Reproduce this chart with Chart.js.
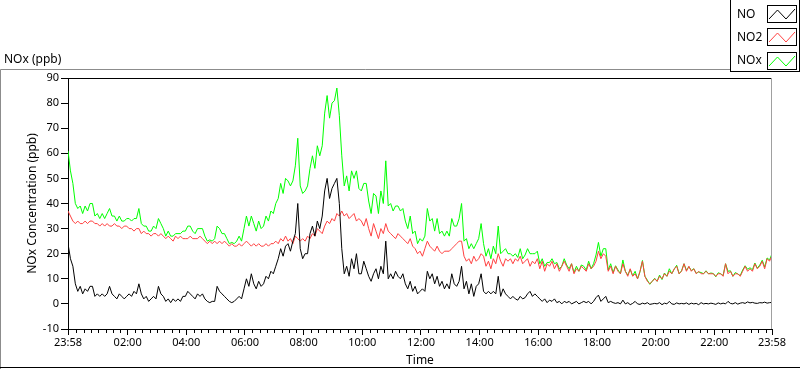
<!DOCTYPE html>
<html>
<head>
<meta charset="utf-8">
<title>NOx (ppb)</title>
<script src="https://cdn.jsdelivr.net/npm/chart.js@4.4.1/dist/chart.umd.min.js"></script>
<style>
    html, body { margin: 0; padding: 0; background: #ffffff; }
    #noxChart { display: block; }
</style>
</head>
<body>
<canvas id="noxChart" width="800" height="369"></canvas>
<script>
// One day of NOx readings, one sample every 5 minutes starting at 23:58
const sampleStep = 5;

const noValues = [
    24, 18, 15, 8, 5, 7, 4, 6, 5, 7, 7, 3,
    4, 3, 4, 3, 4, 7, 4, 3, 2, 4, 3, 2,
    3, 4, 3, 5, 4, 8, 4, 2, 3, 1, 2, 3,
    2, 7, 4, 3, 1, 2, 0.5, 2, 1, 2, 1, 3,
    3, 5, 4, 3, 2, 4, 3, 4, 2, 1, 0.5, 1,
    1, 7, 5, 4, 3, 2, 1, 0.5, 1, 2, 3, 2,
    6, 10, 7, 12, 8, 6, 9, 7, 8, 11, 10, 13,
    12, 15, 18, 22, 19, 23, 24, 21, 25, 28, 40, 22,
    18, 20, 20, 28, 31, 27, 33, 30, 35, 45, 50, 42,
    46, 48, 50, 40, 22, 12, 15, 11, 18, 14, 20, 12,
    12, 17, 14, 11, 9, 12, 14, 10, 15, 12, 25, 10,
    12, 10, 13, 11, 10, 12, 8, 6, 9, 5, 7, 4,
    5, 6, 5, 13, 10, 12, 8, 11, 7, 9, 6, 8,
    6, 12, 8, 7, 9, 15, 6, 9, 4, 8, 3, 7,
    8, 12, 5, 4, 5, 4, 5, 4, 11, 3, 6, 4,
    3, 2, 3, 2, 1.5, 3, 2, 2.5, 4, 5, 3, 4,
    3, 2, 1, 2, 0.5, 1.5, 1, 2, 0.5, 1, 0, 1,
    0.5, 1, 0, 0.5, 1, 0, 0.5, 1, 0.5, 1, 0, 1,
    2.5, 3.5, 1, 2, 3, 0.5, 1, 0.5, 0.2, 0.5, 0, 1.5,
    0, 0.5, -0.3, 0.2, 1, 0, -0.2, 0.3, 0, 0.5, -0.2, 0,
    0.2, 0, 0.5, -0.3, 0.3, 0, 1, 0, -0.2, 0.4, 0, 0.2,
    0, 0.4, -0.2, 0.3, 0, 0.2, -0.3, 0.5, 0, 0.2, 0, 0.3,
    0.1, -0.2, 0.4, 0, 0.3, 0, 1, 0.2, 0, 0.5, -0.1, 0.3,
    0.5, 0.2, 0.8, 0.4, 0.6, 0.3, 0.2, 0.5, 0.4, 0.7, 0.3, 0.5,
    0.6
];

const no2Values = [
    37, 35, 33, 32, 33, 32, 32, 33, 32, 33, 33, 32,
    32, 31, 32, 31, 32, 31, 31, 32, 31, 31, 30, 31,
    31, 30, 30, 29, 30, 30, 28, 29, 28, 28, 27, 28,
    28, 27, 28, 27, 26, 27, 26, 25, 27, 26, 27, 26,
    26, 26, 27, 26, 26, 26, 27, 26, 25, 24, 25, 24,
    25, 24, 25, 24, 25, 24, 23, 24, 23, 23, 24, 23,
    24, 25, 24, 23, 24, 23, 24, 23, 23, 24, 23, 24,
    24, 25, 24, 26, 25, 27, 25, 26, 24, 27, 26, 25,
    26, 25, 27, 26, 28, 27, 30, 29, 28, 31, 33, 32,
    34, 33, 36, 35, 37, 35, 36, 34, 35, 36, 33, 34,
    33, 31, 34, 30, 27, 32, 29, 26, 30, 28, 32, 29,
    28, 27, 26, 28, 27, 26, 25, 24, 26, 23, 22, 20,
    21, 19, 22, 25, 23, 22, 21, 23, 21, 20, 21, 21,
    21, 22, 23, 24, 25, 25, 19, 17, 18, 16, 19, 17,
    18, 20, 19, 15, 17, 14, 18, 16, 20, 17, 15, 18,
    17, 18, 16, 18, 17, 19, 16, 17, 18, 15, 17, 16,
    18, 14, 17, 13, 16, 15, 17, 14, 16, 13, 15, 17,
    15, 13, 16, 12, 14, 13, 15, 14, 13, 16, 14, 15,
    17, 21, 18, 20, 19, 13, 15, 12, 15, 13, 12, 16,
    13, 11, 14, 11, 12, 10, 13, 17, 11, 9, 8, 9,
    10, 9, 11, 10, 12, 11, 13, 12, 14, 15, 12, 13,
    16, 13, 15, 13, 14, 12, 13, 12, 12, 13, 12, 12,
    12, 11, 12, 12, 11, 16, 12, 13, 11, 12, 12, 11,
    13, 15, 13, 14, 13, 16, 14, 15, 17, 14, 18, 17,
    19.4
];

const noxValues = [
    61, 53, 48, 40, 38, 39, 36, 39, 37, 40, 40, 35,
    36, 34, 36, 34, 36, 38, 35, 35, 33, 35, 33, 33,
    34, 34, 33, 34, 34, 38, 32, 31, 31, 29, 29, 31,
    30, 34, 32, 30, 27, 29, 27, 27, 28, 28, 28, 29,
    29, 31, 31, 29, 28, 30, 30, 30, 27, 25, 25.5, 25,
    26, 31, 30, 28, 28, 26, 24, 24.5, 24, 25, 27, 25,
    30, 35, 31, 35, 32, 29, 33, 30, 31, 35, 33, 37,
    36, 40, 42, 48, 44, 50, 49, 47, 49, 55, 66, 47,
    44, 45, 47, 54, 59, 54, 63, 59, 63, 76, 83, 74,
    80, 81, 86, 75, 59, 47, 51, 45, 53, 50, 53, 46,
    45, 48, 48, 41, 36, 44, 43, 36, 45, 40, 57, 39,
    40, 37, 39, 39, 37, 38, 33, 30, 35, 28, 29, 24,
    26, 25, 27, 38, 33, 34, 29, 34, 28, 29, 27, 29,
    27, 34, 31, 31, 34, 40, 25, 26, 22, 24, 22, 24,
    26, 32, 24, 19, 22, 18, 23, 20, 31, 20, 21, 22,
    20, 20, 19, 20, 18.5, 22, 18, 19.5, 22, 20, 20, 20,
    21, 16, 18, 15, 16.5, 16.5, 18, 16, 16.5, 14, 15, 18,
    15.5, 14, 16, 12.5, 15, 13, 15.5, 15, 13.5, 17, 14, 16,
    19.5, 24.5, 19, 22, 22, 13.5, 16, 12.5, 15.2, 13.5, 12, 17.5,
    13, 11.5, 13.7, 11.2, 13, 10, 12.8, 17.3, 11, 9.5, 7.8, 9,
    10.2, 9, 11.5, 9.7, 12.3, 11, 14, 12, 13.8, 15.4, 12, 13.2,
    16, 13.4, 14.8, 13.3, 14, 12.2, 12.7, 12.5, 12, 13.2, 12, 12.3,
    12.1, 10.8, 12.4, 12, 11.3, 16, 13, 13.2, 11, 12.5, 11.9, 11.3,
    13.5, 15.2, 13.8, 14.4, 13.6, 16.3, 14.2, 15.5, 17.4, 14.7, 18.3, 17.5,
    20
];

const seriesNames = ['NO', 'NO2', 'NOx'];
const seriesColors = ['#000000', '#ff4040', '#00ff00'];

// x axis: minutes after 23:58
const xTickMinutes = [0, 122, 242, 362, 482, 602, 722, 842, 962, 1082, 1202, 1322, 1440];
const xTickLabels = ['23:58', '02:00', '04:00', '06:00', '08:00', '10:00', '12:00',
                     '14:00', '16:00', '18:00', '20:00', '22:00', '23:58'];
const yMin = -10;
const yMax = 90;
const yStep = 10;

const fontFamily = "'Segoe UI', 'Noto Sans', sans-serif";

function toPoints(values) {
    return values.map(function(v, i) { return { x: i * sampleStep, y: v }; });
}

// frame, legend, corner label and minor ticks (LabVIEW style)
const graphFrame = {
    id: 'graphFrame',
    beforeDraw: function(chart) {
        const ctx = chart.ctx;
        ctx.save();
        ctx.fillStyle = '#ffffff';
        ctx.fillRect(0, 0, chart.width, chart.height);
        ctx.restore();
    },
    afterDraw: function(chart) {
        const ctx = chart.ctx;
        const area = chart.chartArea;
        const xScale = chart.scales.x;
        ctx.save();

        // outer panel
        ctx.lineWidth = 1;
        ctx.strokeStyle = '#8c8c8c';
        ctx.beginPath();
        ctx.moveTo(0.5, 369);
        ctx.lineTo(0.5, 69.5);
        ctx.lineTo(731, 69.5);
        ctx.stroke();
        ctx.strokeStyle = '#000000';
        ctx.beginPath();
        ctx.moveTo(0, 367.5);
        ctx.lineTo(800, 367.5);
        ctx.stroke();

        // plot frame: top black, right grey
        ctx.beginPath();
        ctx.moveTo(area.left, area.top + 0.5);
        ctx.lineTo(area.right, area.top + 0.5);
        ctx.stroke();
        ctx.strokeStyle = '#a0a0a0';
        ctx.beginPath();
        ctx.moveTo(area.right - 0.5, area.top);
        ctx.lineTo(area.right - 0.5, area.bottom);
        ctx.stroke();

        // minor ticks every quarter hour
        ctx.strokeStyle = '#000000';
        ctx.beginPath();
        for (let m = 17; m < 1440; m += 15) {
            const nearMajor = xTickMinutes.some(function(t) { return Math.abs(t - m) < 6; });
            if (nearMajor) continue;
            const px = Math.round(xScale.getPixelForValue(m)) + 0.5;
            ctx.moveTo(px, area.bottom);
            ctx.lineTo(px, area.bottom + 4);
        }
        ctx.stroke();

        // label in top left corner
        ctx.fillStyle = '#000000';
        ctx.font = '12px ' + fontFamily;
        ctx.textAlign = 'left';
        ctx.textBaseline = 'alphabetic';
        ctx.fillText('NOx (ppb)', 4, 63);

        // legend box
        ctx.fillStyle = '#ffffff';
        ctx.fillRect(730, 0, 70, 72);
        ctx.strokeStyle = '#000000';
        ctx.strokeRect(730.5, -1, 69, 72.5);
        chart.data.datasets.forEach(function(ds, i) {
            const top = 4.5 + i * 23.5;
            ctx.fillStyle = '#000000';
            ctx.fillText(ds.label, 737, 18 + i * 23);
            ctx.strokeStyle = '#000000';
            ctx.lineWidth = 1;
            ctx.strokeRect(767.5, Math.round(top) + 0.5, 29, 17);
            ctx.strokeStyle = ds.borderColor;
            ctx.beginPath();
            const t = Math.round(top);
            ctx.moveTo(769, t + 14);
            ctx.lineTo(777.5, t + 5);
            ctx.lineTo(786, t + 14);
            ctx.lineTo(795, t + 4);
            ctx.stroke();
        });

        ctx.restore();
    }
};

const ctx = document.getElementById('noxChart').getContext('2d');
const noxChart = new Chart(ctx, {
    type: 'line',
    data: {
        datasets: [
            { label: seriesNames[0], data: toPoints(noValues), borderColor: seriesColors[0] },
            { label: seriesNames[1], data: toPoints(no2Values), borderColor: seriesColors[1] },
            { label: seriesNames[2], data: toPoints(noxValues), borderColor: seriesColors[2] }
        ]
    },
    options: {
        responsive: false,
        animation: false,
        events: [],
        layout: {
            padding: { top: 78, right: 28, bottom: 0, left: 0 }
        },
        elements: {
            line: { borderWidth: 1, tension: 0, fill: false },
            point: { radius: 0 }
        },
        plugins: {
            legend: { display: false },
            title: { display: false },
            tooltip: { enabled: false }
        },
        scales: {
            x: {
                type: 'linear',
                min: 0,
                max: 1440,
                afterBuildTicks: function(scale) {
                    scale.ticks = xTickMinutes.map(function(v) { return { value: v }; });
                },
                afterFit: function(scale) { scale.height = 40; },
                ticks: {
                    autoSkip: false,
                    maxRotation: 0,
                    padding: 1,
                    color: '#000000',
                    font: { family: fontFamily, size: 11 },
                    callback: function(value) {
                        const k = xTickMinutes.indexOf(value);
                        return k >= 0 ? xTickLabels[k] : '';
                    }
                },
                grid: {
                    drawOnChartArea: false,
                    drawTicks: true,
                    tickLength: 6,
                    tickColor: '#000000'
                },
                border: { display: true, color: '#000000', width: 1 },
                title: {
                    display: true,
                    text: 'Time',
                    color: '#000000',
                    font: { family: fontFamily, size: 12 },
                    padding: { top: 0, bottom: 1 }
                }
            },
            y: {
                min: yMin,
                max: yMax,
                afterFit: function(scale) { scale.width = 68; },
                ticks: {
                    stepSize: yStep,
                    padding: 2,
                    color: '#000000',
                    font: { family: fontFamily, size: 11 }
                },
                grid: {
                    drawOnChartArea: false,
                    drawTicks: true,
                    tickLength: 7,
                    tickColor: '#000000'
                },
                border: { display: true, color: '#000000', width: 1 },
                title: {
                    display: true,
                    text: 'NOx Concentration (ppb)',
                    color: '#000000',
                    font: { family: fontFamily, size: 12 },
                    padding: { top: 25, bottom: 0 }
                }
            }
        }
    },
    plugins: [graphFrame]
});
</script>
</body>
</html>
